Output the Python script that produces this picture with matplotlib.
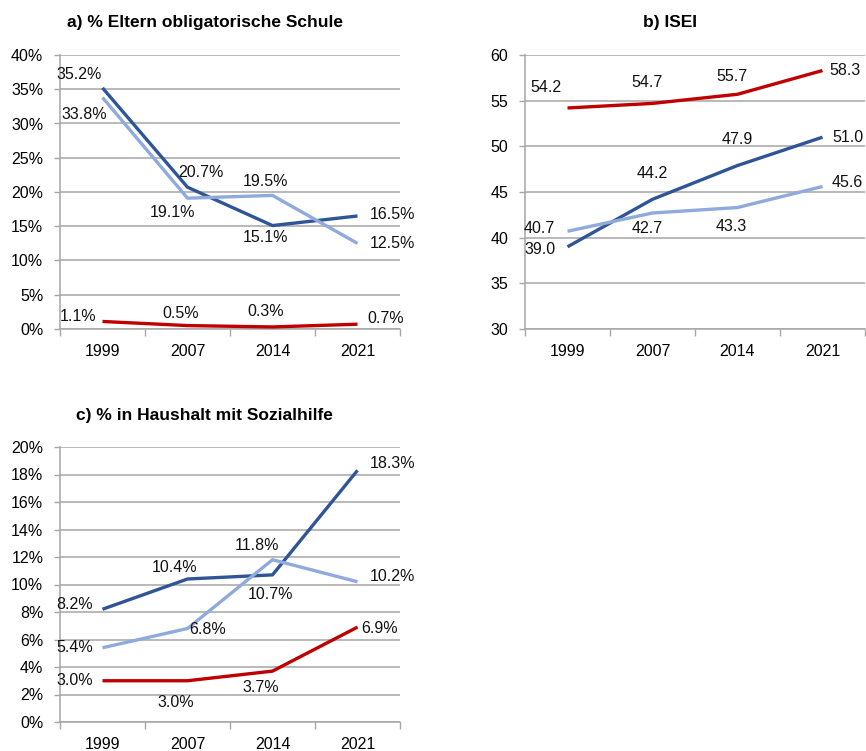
import matplotlib
matplotlib.use("Agg")
import matplotlib.pyplot as plt
from matplotlib import font_manager

# --- data -------------------------------------------------------------
years = ["1999", "2007", "2014", "2021"]

# a) % Eltern obligatorische Schule
eltern_dark = [35.2, 20.7, 15.1, 16.5]
eltern_light = [33.8, 19.1, 19.5, 12.5]
eltern_red = [1.1, 0.5, 0.3, 0.7]

# b) ISEI
isei_dark = [39.0, 44.2, 47.9, 51.0]
isei_light = [40.7, 42.7, 43.3, 45.6]
isei_red = [54.2, 54.7, 55.7, 58.3]

# c) % in Haushalt mit Sozialhilfe
sozial_dark = [8.2, 10.4, 10.7, 18.3]
sozial_light = [5.4, 6.8, 11.8, 10.2]
sozial_red = [3.0, 3.0, 3.7, 6.9]

# --- style ------------------------------------------------------------
names = [f.name for f in font_manager.fontManager.ttflist]
if "Liberation Sans Narrow" in names:
    plt.rcParams["font.family"] = ["Liberation Sans Narrow", "DejaVu Sans"]
else:
    plt.rcParams["font.family"] = ["Liberation Sans", "DejaVu Sans"]

DARK = "#2f5597"
LIGHT = "#8faadc"
RED = "#c00000"
GRID = "#a6a6a6"
FS = 11.5


def setup_axes(ax, ylim, yticks, fmt):
    ax.set_xlim(-0.5, 3.5)
    ax.set_ylim(*ylim)
    ax.set_yticks(yticks)
    ax.set_yticklabels([fmt(v) for v in yticks], fontsize=FS)
    ax.set_xticks(range(len(years)))
    ax.set_xticklabels(years, fontsize=FS)
    ax.set_xticks([i - 0.5 for i in range(len(years) + 1)], minor=True)
    ax.tick_params(axis="x", which="major", length=0, pad=11)
    ax.tick_params(axis="x", which="minor", length=5, color=GRID, width=1)
    ax.tick_params(axis="y", length=4, color=GRID, width=1, pad=8)
    ax.grid(axis="y", color=GRID, lw=1.1)
    ax.set_axisbelow(True)
    for s in ["top", "right"]:
        ax.spines[s].set_visible(False)
    for s in ["left", "bottom"]:
        ax.spines[s].set_color(GRID)
        ax.spines[s].set_linewidth(1.1)


def draw(ax, values, color, offsets, fmt):
    x = range(len(values))
    ax.plot(x, values, color=color, lw=2.4, solid_capstyle="butt", zorder=3)
    for i, (v, off) in enumerate(zip(values, offsets)):
        ax.annotate(fmt(v), (i, v), xytext=off, textcoords="offset pixels",
                    ha="center", va="center", fontsize=FS, color="#111111")


pct = lambda v: f"{v:.1f}%"
num = lambda v: f"{v:.1f}"

fig = plt.figure(figsize=(8.66, 7.51), dpi=100)
ax_a = fig.add_axes([60 / 866, 1 - 329 / 751, 340 / 866, 274 / 751])
ax_b = fig.add_axes([525 / 866, 1 - 329 / 751, 340 / 866, 274 / 751])
ax_c = fig.add_axes([60 / 866, 1 - 722 / 751, 340 / 866, 275 / 751])

# panel a
setup_axes(ax_a, (0, 40), range(0, 41, 5), lambda v: f"{v}%")
draw(ax_a, eltern_dark, DARK, [(-23, 13), (13, 15), (-7, -12), (35, 1)], pct)
draw(ax_a, eltern_light, LIGHT, [(-18, -17), (-15, -14), (-7, 14), (35, 0)], pct)
draw(ax_a, eltern_red, RED, [(-24, 5), (-7, 12), (-7, 15), (28, 6)], pct)

# panel b
setup_axes(ax_b, (30, 60), range(30, 61, 5), lambda v: f"{v}")
draw(ax_b, isei_red, RED, [(-22, 20), (-5, 21), (-6, 18), (23, 0)], num)
draw(ax_b, isei_dark, DARK, [(-27, -3), (0, 26), (0, 26), (25, 0)], num)
draw(ax_b, isei_light, LIGHT, [(-28, 3), (-5, -15), (-6, -19), (25, 4)], num)

# panel c
setup_axes(ax_c, (0, 20), range(0, 21, 2), lambda v: f"{v}%")
draw(ax_c, sozial_dark, DARK, [(-28, 5), (-13, 12), (-2, -20), (35, 7)], pct)
draw(ax_c, sozial_light, LIGHT, [(-28, 0), (20, -1), (-15, 14), (35, 5)], pct)
draw(ax_c, sozial_red, RED, [(-28, 0), (-12, -22), (-12, -16), (22, -1)], pct)

title_kw = dict(ha="center", va="center", fontsize=12.5, fontweight="bold")
fig.text(205 / 866, 1 - 22 / 751, "a) % Eltern obligatorische Schule", **title_kw)
fig.text(670 / 866, 1 - 22 / 751, "b) ISEI", **title_kw)
fig.text(204 / 866, 1 - 416 / 751, "c) % in Haushalt mit Sozialhilfe", **title_kw)

fig.savefig("out.png", dpi=100)
